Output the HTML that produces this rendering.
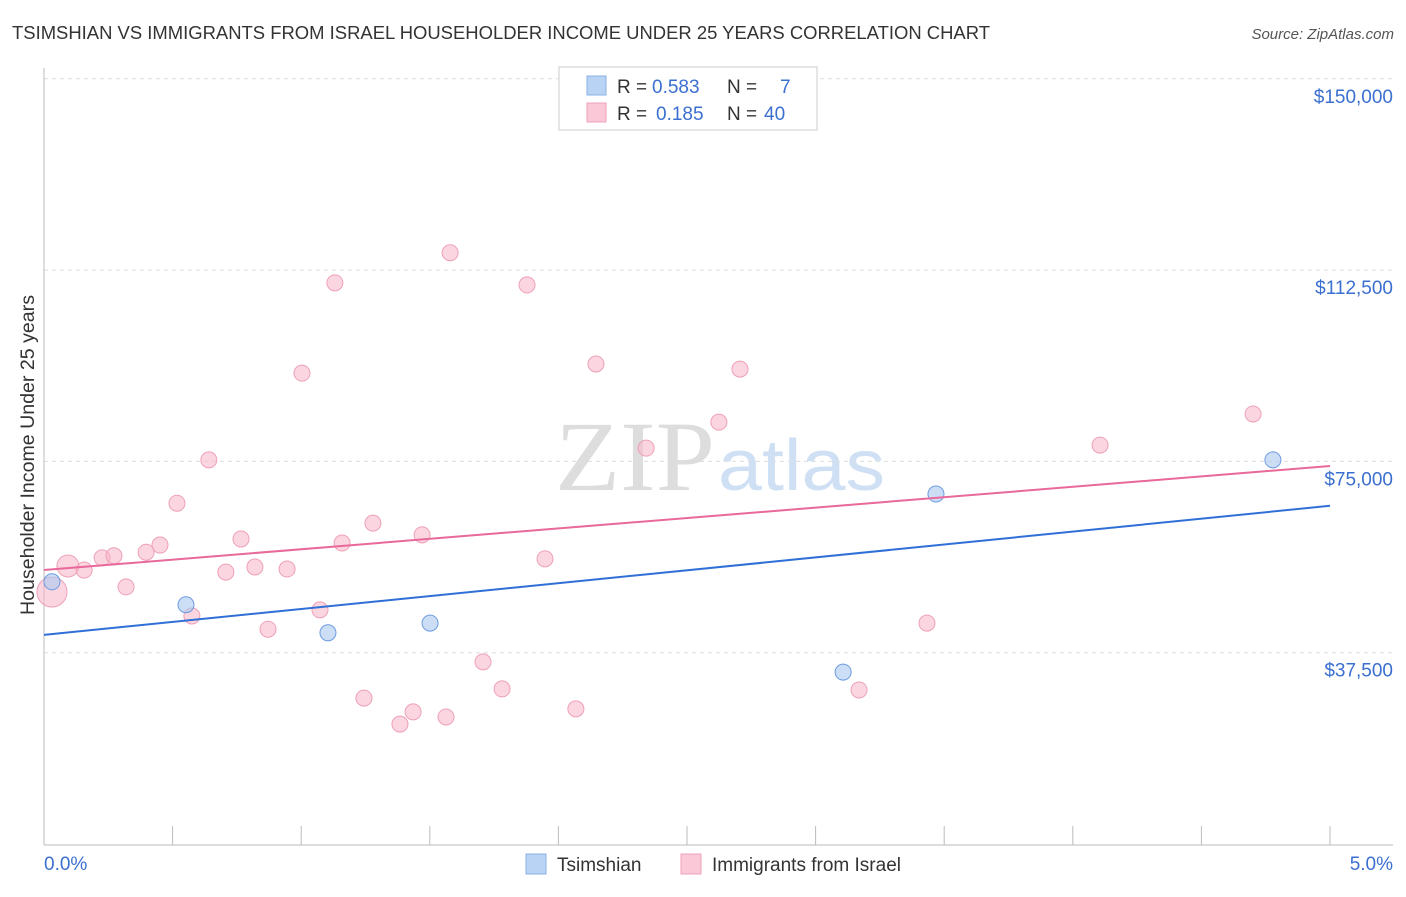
<!DOCTYPE html>
<html><head><meta charset="utf-8"><style>
body{margin:0;background:#fff;font-family:"Liberation Sans",sans-serif}
</style></head><body>
<svg id="c" width="1406" height="892" xmlns="http://www.w3.org/2000/svg">
<text x="12" y="39" font-size="18" fill="#333" textLength="978" lengthAdjust="spacingAndGlyphs">TSIMSHIAN VS IMMIGRANTS FROM ISRAEL HOUSEHOLDER INCOME UNDER 25 YEARS CORRELATION CHART</text>
<text x="1394" y="39" font-size="15" fill="#555" font-style="italic" text-anchor="end">Source: ZipAtlas.com</text>
<text x="715" y="490" font-size="100" fill="#ddd" text-anchor="end" font-family="Liberation Serif" textLength="160" lengthAdjust="spacingAndGlyphs">ZIP</text>
<text x="718" y="490" font-size="72" fill="#cfe0f5" textLength="167" lengthAdjust="spacingAndGlyphs">atlas</text>
<text transform="translate(34,455) rotate(-90)" font-size="19" fill="#333" text-anchor="middle" textLength="320" lengthAdjust="spacingAndGlyphs">Householder Income Under 25 years</text>
<g id="grid"></g><g id="marks"></g>
<g>
<rect x="559" y="67" width="258" height="63" fill="#fff" stroke="#ccc"/>
<rect x="587" y="76" width="19" height="19" fill="#b9d3f5" stroke="#8ab0e6"/>
<rect x="587" y="103" width="19" height="19" fill="#fbc8d8" stroke="#f0a0b8"/>
<text x="617" y="93" font-size="19" fill="#333">R = <tspan x="652" fill="#3b6fd0">0.583</tspan><tspan x="727">N = </tspan><tspan x="780" fill="#3b6fd0">7</tspan></text>
<text x="617" y="120" font-size="19" fill="#333">R = <tspan x="656" fill="#3b6fd0">0.185</tspan><tspan x="727">N = </tspan><tspan x="764" fill="#3b6fd0">40</tspan></text>
</g>
<g>
<rect x="526" y="854" width="20" height="20" fill="#b9d3f5" stroke="#8ab0e6"/>
<text x="557" y="871" font-size="19" fill="#333">Tsimshian</text>
<rect x="681" y="854" width="20" height="20" fill="#fbc8d8" stroke="#f0a0b8"/>
<text x="712" y="871" font-size="19" fill="#333">Immigrants from Israel</text>
</g>
</svg>
<script>
const xTickVals=[0,0.5,1,1.5,2,2.5,3,3.5,4,4.5,5];
const yTickVals=[37500,75000,112500,150000];
const yTickLabels=["$37,500","$75,000","$112,500","$150,000"];
const pinkX=[0.031,0.093,0.156,0.226,0.272,0.319,0.397,0.451,0.517,0.575,0.641,0.707,0.766,0.820,0.871,0.945,1.003,1.073,1.131,1.159,1.244,1.279,1.384,1.435,1.470,1.563,1.579,1.707,1.781,1.878,1.948,2.068,2.146,2.341,2.624,2.706,3.169,3.433,4.106,4.701];
const pinkY=[49400,54500,53700,56100,56500,50400,57200,58600,66800,44700,75300,53300,59800,54300,42100,53900,92300,45900,110000,59000,28600,62900,23500,25900,60600,24900,115900,35700,30400,109600,55900,26500,94100,77600,82700,93100,30200,43300,78200,84300];
const blueX=[0.031,0.552,1.104,1.501,3.107,3.468,4.778];
const blueY=[51400,46900,41400,43300,33700,68600,75300];
const blueTrend=[41000,66300];
const pinkTrend=[53700,74100];
const NS="http://www.w3.org/2000/svg";
const X=v=>44+v/5*1286, Y=v=>844-v/37500*191.3;
function mk(p,t,a){const e=document.createElementNS(NS,t);for(const k in a)e.setAttribute(k,a[k]);p.appendChild(e);return e;}
const g=document.getElementById('grid'), m=document.getElementById('marks');
yTickVals.forEach((v,i)=>{
 const l=mk(g,'line',{x1:44,x2:1393,y1:Y(v),y2:Y(v),stroke:'#ddd','stroke-dasharray':'4,4'});
 
 
 const t=mk(g,'text',{x:1393,y:Y(v)+24,'font-size':19,fill:'#3b6fd0','text-anchor':'end'});
 t.textContent=yTickLabels[i];
 
 
});
const ax=mk(g,'line',{x1:44,x2:1393,y1:845,y2:845,stroke:'#bbb'});


const ay=mk(g,'line',{x1:44,x2:44,y1:68,y2:845,stroke:'#bbb'});


xTickVals.forEach(v=>{const t=mk(g,'line',{x1:X(v),x2:X(v),y1:826,y2:845,stroke:'#bbb'});
 
 });
[[0,'0.0%','start',44],[5,'5.0%','end',1393]].forEach(a=>{const t=mk(g,'text',{x:a[3],y:870,'font-size':19,fill:'#3b6fd0','text-anchor':a[2]});t.textContent=a[1];
 
 });
pinkX.forEach((x,i)=>{const r=i==0?15:(i==1?11:8);
 const c=mk(m,'circle',{cx:X(x),cy:Y(pinkY[i]),r:r,fill:'rgba(248,180,200,0.55)',stroke:'#eea0b8','stroke-width':1});
 
 });
blueX.forEach((x,i)=>{const c=mk(m,'circle',{cx:X(x),cy:Y(blueY[i]),r:8,fill:'rgba(170,200,240,0.6)',stroke:'#6d9be0','stroke-width':1});
 
 });
const bl=mk(m,'line',{x1:X(0),x2:X(5),y1:Y(blueTrend[0]),y2:Y(blueTrend[1]),stroke:'#2f6fd6','stroke-width':2});


const pl=mk(m,'line',{x1:X(0),x2:X(5),y1:Y(pinkTrend[0]),y2:Y(pinkTrend[1]),stroke:'#e8699a','stroke-width':2});


</script>
</body></html>
